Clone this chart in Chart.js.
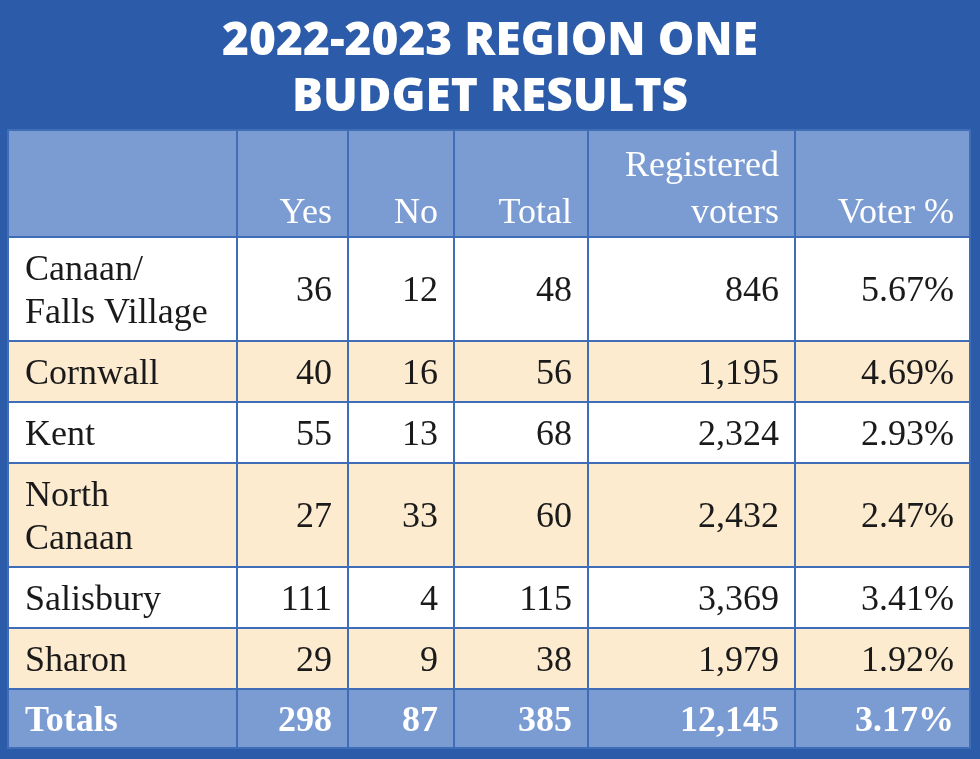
<!DOCTYPE html>
<html><head><meta charset="utf-8">
<script src="https://cdn.jsdelivr.net/npm/chart.js@4/dist/chart.umd.min.js"></script>
<style>html,body{margin:0;padding:0;background:#fff}#wrap{width:980px;height:759px}</style>
</head><body><div id="wrap"><canvas id="tbl"></canvas></div>
<script>
// table data
const titleLines = ['2022-2023 REGION ONE', 'BUDGET RESULTS'];
const headers = [[''], ['Yes'], ['No'], ['Total'], ['Registered', 'voters'], ['Voter %']];
const towns = [['Canaan/', 'Falls Village'], ['Cornwall'], ['Kent'], ['North', 'Canaan'], ['Salisbury'], ['Sharon']];
const yes = [36, 40, 55, 27, 111, 29];
const no = [12, 16, 13, 33, 4, 9];
const total = [48, 56, 68, 60, 115, 38];
const registered = ['846', '1,195', '2,324', '2,432', '3,369', '1,979'];
const voterPct = ['5.67%', '4.69%', '2.93%', '2.47%', '3.41%', '1.92%'];
const totals = ['Totals', '298', '87', '385', '12,145', '3.17%'];

// layout (units along the hidden linear scales)
const colWidths = [229, 111, 106, 134, 207, 175];
const headerH = 107, lineH = 43, rowPad = 18, totalsH = 59;

const rows = towns.map((t, i) => [t, [String(yes[i])], [String(no[i])], [String(total[i])], [registered[i]], [voterPct[i]]]);
const rowHeights = towns.map(t => t.length * lineH + rowPad);
const yEdges = [0, headerH];
rowHeights.forEach(h => yEdges.push(yEdges[yEdges.length - 1] + h));
yEdges.push(yEdges[yEdges.length - 1] + totalsH);
const xEdges = [0];
colWidths.forEach(w => xEdges.push(xEdges[xEdges.length - 1] + w));

const tablePlugin = {
  id: 'table',
  beforeDraw(chart) {
    const c = chart.ctx;
    c.fillStyle = '#2b5ba9';
    c.fillRect(0, 0, chart.width, chart.height);
    c.fillStyle = '#fff';
    c.font = '800 46px "Open Sans"';
    c.textAlign = 'center';
    c.textBaseline = 'middle';
    titleLines.forEach((t, i) => c.fillText(t, chart.width / 2, 42 + i * 56));
  },
  afterDraw(chart) {
    const c = chart.ctx, xs = chart.scales.x, ys = chart.scales.y;
    const X = v => xs.getPixelForValue(v), Y = v => ys.getPixelForValue(v);
    const all = [headers].concat(rows, [totals.map(t => [t])]);
    all.forEach((row, r) => {
      const top = Y(yEdges[r]), bot = Y(yEdges[r + 1]);
      const isHead = r === 0, isTot = r === all.length - 1;
      const bg = isHead || isTot ? '#7b9bd3' : (r % 2 === 0 ? '#fdebd0' : '#ffffff');
      row.forEach((cell, k) => {
        const l = X(xEdges[k]), rr = X(xEdges[k + 1]);
        c.fillStyle = bg;
        c.fillRect(l, top, rr - l, bot - top);
        c.strokeStyle = '#3f6db8';
        c.lineWidth = 2;
        c.strokeRect(l, top, rr - l, bot - top);
        c.fillStyle = isHead || isTot ? '#fff' : '#1a1a1a';
        c.font = (isTot ? 'bold ' : '') + '36px "Liberation Serif"';
        c.textBaseline = 'alphabetic';
        c.textAlign = k === 0 ? 'left' : 'right';
        const tx = k === 0 ? l + 17 : rr - 16;
        const n = cell.length;
        cell.forEach((line, j) => {
          let by;
          if (isHead) by = bot - 14 - (n - 1 - j) * 47;
          else by = (top + bot) / 2 + 12 + (j - (n - 1) / 2) * lineH;
          c.fillText(line, tx, by);
        });
      });
    });
  }
};

new Chart(document.getElementById('tbl'), {
  type: 'bar',
  data: { datasets: [] },
  options: {
    responsive: true,
    maintainAspectRatio: false,
    animation: false,
    layout: { padding: { left: 8, right: 10, top: 130, bottom: 759 - 130 - yEdges[yEdges.length - 1] } },
    plugins: { legend: { display: false }, tooltip: { enabled: false } },
    scales: {
      x: { type: 'linear', offset: false, min: 0, max: xEdges[xEdges.length - 1], display: false },
      y: { type: 'linear', offset: false, min: 0, max: yEdges[yEdges.length - 1], reverse: true, display: false }
    }
  },
  plugins: [tablePlugin]
});
</script></body></html>
